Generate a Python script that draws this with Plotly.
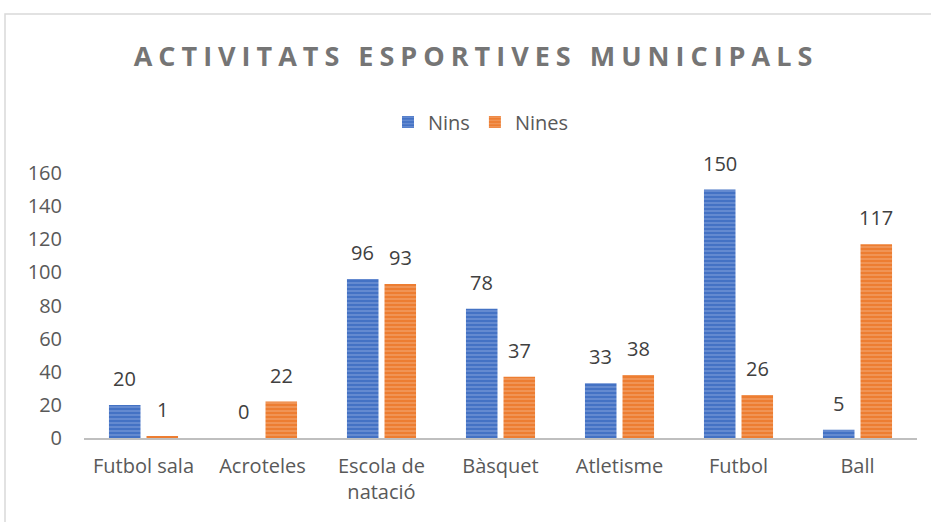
import plotly.graph_objects as go

categories = ["Futbol sala", "Acroteles", "Escola de<br>natació", "Bàsquet", "Atletisme", "Futbol", "Ball"]
nins = [20, 0, 96, 78, 33, 150, 5]
nines = [1, 22, 93, 37, 38, 26, 117]
y_ticks = [0, 20, 40, 60, 80, 100, 120, 140, 160]

FONT = "Open Sans"
GRAY = "#595959"
BLUE = "#4472C4"
ORANGE = "#ED7D31"

W, H = 931, 522
ml, mr, mt, mb = 84, 14, 173, 84
pw = W - ml - mr
ph = H - mt - mb


def px_x(p):
    return (p - ml) / pw


def px_y(p):
    return (H - mb - p) / ph


fig = go.Figure()
fig.add_trace(go.Bar(
    name="Nins", x=categories, y=nins,
    marker=dict(color=BLUE, line=dict(width=0),
                pattern=dict(shape="-", fgcolor="#9FB6E6", bgcolor=BLUE, size=4, solidity=0.35)),
))
fig.add_trace(go.Bar(
    name="Nines", x=categories, y=nines,
    marker=dict(color=ORANGE, line=dict(width=0),
                pattern=dict(shape="-", fgcolor="#F6BE97", bgcolor=ORANGE, size=4, solidity=0.35)),
))

annotations = []
for series, shift in ((nins, -18.75), (nines, 18.75)):
    for c, v in zip(categories, series):
        annotations.append(dict(x=c, y=v, xref="x", yref="y", text=str(v), showarrow=False,
                                xshift=shift, yshift=11, yanchor="bottom",
                                font=dict(family=FONT, size=20, color="#404040")))

fig.update_layout(
    width=W, height=H,
    margin=dict(l=ml, r=mr, t=mt, b=mb),
    paper_bgcolor="white", plot_bgcolor="white",
    barmode="group", bargap=0.369, bargroupgap=0.16,
    font=dict(family=FONT, size=20, color=GRAY),
    title=dict(text="<b>ACTIVITATS ESPORTIVES MUNICIPALS</b>", x=px_x(476), xref="paper",
               xanchor="center", y=(H - 57) / H, yanchor="middle",
               font=dict(family=FONT, size=27, color="#757575")),
    legend=dict(orientation="h", x=px_x(481), xanchor="center", y=px_y(122),
                yanchor="middle", font=dict(family=FONT, size=20, color=GRAY),
                itemwidth=30, bgcolor="rgba(0,0,0,0)"),
    xaxis=dict(showgrid=False, showline=True, linecolor="#BFBFBF", linewidth=2,
               ticks="", tickfont=dict(family=FONT, size=20, color=GRAY), ticklabelstandoff=9),
    yaxis=dict(range=[0, 160], tickvals=y_ticks, showgrid=False, showline=False, zeroline=False,
               ticks="", tickfont=dict(family=FONT, size=20, color=GRAY), ticklabelstandoff=21),
    annotations=annotations,
    shapes=[dict(type="rect", xref="paper", yref="paper",
                 x0=px_x(5), x1=px_x(980), y0=px_y(560), y1=px_y(14),
                 line=dict(color="#D9D9D9", width=1.5), fillcolor="rgba(0,0,0,0)", layer="below")],
)

post = """
document.body.style.margin = '0';
var gd = document.getElementById('{plot_id}');
function ls(){ var t = gd.querySelector('.gtitle'); if (t) { t.style.letterSpacing = '6px'; } }
ls();
gd.on('plotly_afterplot', ls);
"""
fig.write_html("out.html", post_script=post, config={"displayModeBar": False})
